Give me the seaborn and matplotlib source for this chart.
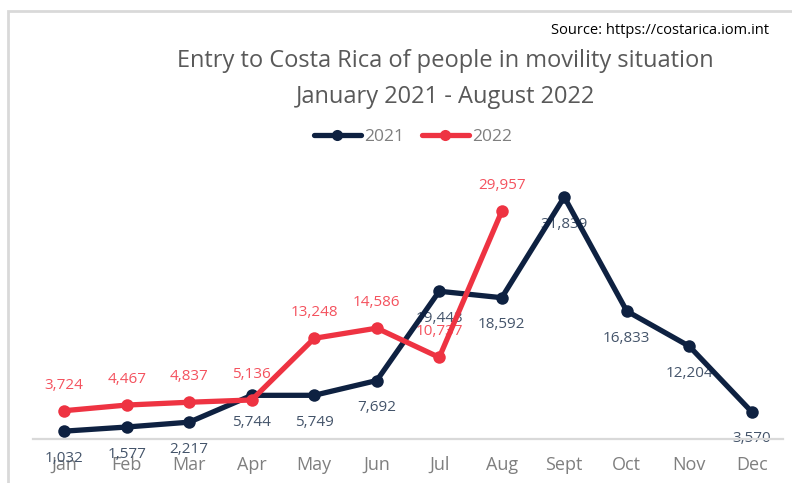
import matplotlib
matplotlib.use("Agg")
import matplotlib.pyplot as plt
import seaborn as sns
import pandas as pd
from matplotlib.patches import Rectangle
from matplotlib.lines import Line2D

months = ["Jan", "Feb", "Mar", "Apr", "May", "Jun", "Jul", "Aug", "Sept", "Oct", "Nov", "Dec"]
values_2021 = [1032, 1577, 2217, 5744, 5749, 7692, 19443, 18592, 31839, 16833, 12204, 3570]
values_2022 = [3724, 4467, 4837, 5136, 13248, 14586, 10737, 29957]

title_line1 = "Entry to Costa Rica of people in movility situation"
title_line2 = "January 2021 - August 2022"
source_text = "Source: https://costarica.iom.int"

navy = "#0E2141"
red = "#EE3342"
navy_lbl = "#44546A"
red_lbl = "#F4525E"
grey_txt = "#7F7F7F"

sns.set_theme(style="white")
plt.rcParams["font.family"] = ["Open Sans", "DejaVu Sans"]

df = pd.concat([
    pd.DataFrame({"month": months, "value": values_2021, "year": "2021"}),
    pd.DataFrame({"month": months[:len(values_2022)], "value": values_2022, "year": "2022"}),
])
df["pos"] = df["month"].map({m: i for i, m in enumerate(months)})

fig = plt.figure(figsize=(7.92, 4.83), dpi=100)
ax = fig.add_axes([33 / 792, 44 / 483, 750 / 792, 266 / 483])

sns.lineplot(data=df, x="pos", y="value", hue="year", palette={"2021": navy, "2022": red},
             marker="o", markersize=9, markeredgewidth=0, linewidth=3.8, sort=False,
             ax=ax, legend=False, zorder=3)

for i, v in enumerate(values_2021):
    ax.annotate(f"{v:,}", (i, v), xytext=(0, -19.5), textcoords="offset points",
                ha="center", va="center", fontsize=11, color=navy_lbl, zorder=2)
for i, v in enumerate(values_2022):
    ax.annotate(f"{v:,}", (i, v), xytext=(0, 18.5), textcoords="offset points",
                ha="center", va="center", fontsize=11, color=red_lbl, zorder=2)

ax.set_xlim(-0.5, 11.5)
ax.set_ylim(0, 35000)
ax.set_xticks(range(len(months)))
ax.set_xticklabels(months, fontsize=13, color=grey_txt)
ax.set_yticks([])
ax.set_xlabel("")
ax.set_ylabel("")
ax.tick_params(axis="x", length=0, pad=12)
for s in ["top", "right", "left"]:
    ax.spines[s].set_visible(False)
ax.spines["bottom"].set_color("#D9D9D9")
ax.spines["bottom"].set_linewidth(1.6)
ax.patch.set_alpha(0)

# legend
handles = [Line2D([], [], color=navy, lw=3.8, marker="o", markersize=8, markeredgewidth=0),
           Line2D([], [], color=red, lw=3.8, marker="o", markersize=8, markeredgewidth=0)]
fig.legend(handles, ["2021", "2022"], loc="center", bbox_to_anchor=(413 / 792, 1 - 137 / 483),
           ncol=2, frameon=False, fontsize=12.5, handlelength=2.7, handletextpad=0.2,
           columnspacing=1.0, numpoints=1, labelcolor=grey_txt)

# frame
fig.patches.append(Rectangle((8 / 792, -0.1), 1.2, (1 - 11 / 483) + 0.1, transform=fig.transFigure,
                             fill=False, edgecolor="#D9D9D9", linewidth=2, zorder=0))

fig.text(445 / 792, 1 - 61 / 483, title_line1, ha="center", va="center", fontsize=17,
         color="#595959")
fig.text(445 / 792, 1 - 97 / 483, title_line2, ha="center", va="center", fontsize=17,
         color="#595959")
fig.text(769 / 792, 1 - 30 / 483, source_text, ha="right", va="center", fontsize=10.5,
         color="#000000")

fig.savefig("out.png", dpi=100)
